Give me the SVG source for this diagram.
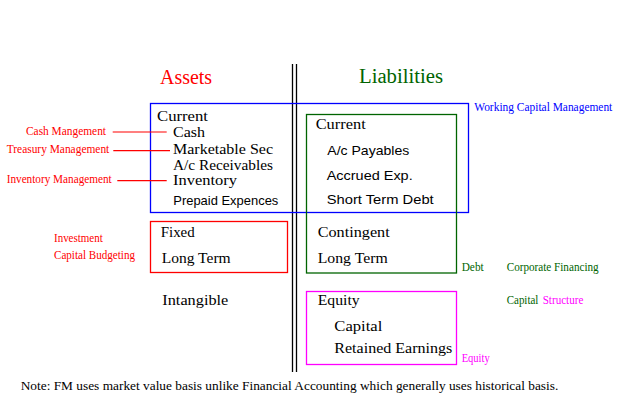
<svg xmlns="http://www.w3.org/2000/svg" width="641" height="410" viewBox="0 0 641 410" font-family="'Liberation Serif', 'DejaVu Serif', serif">
<style>
.it{font-family:'Liberation Serif','DejaVu Serif',serif;font-size:15px;fill:#000;}
.sn{font-family:'Liberation Sans',Arial,sans-serif;font-size:13px;fill:#000;}
.sm{font-family:'Liberation Serif','DejaVu Serif',serif;font-size:11.5px;}
.hd{font-family:'Liberation Serif','DejaVu Serif',serif;font-size:20px;}
.nt{font-family:'Liberation Serif','DejaVu Serif',serif;font-size:12px;fill:#000;}
.r{fill:#ff0000;}
.g{fill:#006400;}
.b{fill:#0000ff;}
.m{fill:#ff00ff;}
.box{fill:none;stroke-width:1.3;}
</style>
<rect width="641" height="410" fill="#ffffff"/>
<g id="divider" stroke="#000" stroke-width="1.3">
<line x1="292.5" y1="64" x2="292.5" y2="372"/>
<line x1="296.5" y1="64" x2="296.5" y2="372"/>
</g>
<g id="headings">
<text class="hd r" x="160" y="84" textLength="52" lengthAdjust="spacingAndGlyphs">Assets</text>
<text class="hd g" x="359" y="83" textLength="84" lengthAdjust="spacingAndGlyphs">Liabilities</text>
</g>
<g id="working-capital">
<rect class="box" x="150.5" y="103.5" width="318" height="109" stroke="#0000ff"/>
<text class="sm b" x="474.3" y="110.7" textLength="138" lengthAdjust="spacingAndGlyphs">Working Capital Management</text>
</g>
<g id="current-assets">
<text class="it" x="157" y="121" textLength="51" lengthAdjust="spacingAndGlyphs">Current</text>
<text class="it" x="173" y="137" textLength="32" lengthAdjust="spacingAndGlyphs">Cash</text>
<text class="it" x="173" y="154" textLength="100" lengthAdjust="spacingAndGlyphs">Marketable Sec</text>
<text class="it" x="173" y="169.5" textLength="100" lengthAdjust="spacingAndGlyphs">A/c Receivables</text>
<text class="it" x="173" y="185" textLength="64" lengthAdjust="spacingAndGlyphs">Inventory</text>
<text class="sn" x="173.3" y="204.7" textLength="105" lengthAdjust="spacingAndGlyphs">Prepaid Expences</text>
</g>
<g id="asset-labels">
<text class="sm r" x="26" y="135.3" textLength="80" lengthAdjust="spacingAndGlyphs">Cash Mangement</text>
<text class="sm r" x="6.7" y="153" textLength="102.6" lengthAdjust="spacingAndGlyphs">Treasury Management</text>
<text class="sm r" x="6.7" y="183.3" textLength="105" lengthAdjust="spacingAndGlyphs">Inventory Management</text>
</g>
<g id="connectors" stroke="#ff0000" stroke-width="1.2">
<line x1="112.7" y1="132" x2="166.7" y2="132"/>
<line x1="113.3" y1="150.7" x2="170" y2="150.7"/>
<line x1="117.3" y1="180.7" x2="166.7" y2="180.7"/>
</g>
<g id="debt">
<rect class="box" x="306.5" y="114.5" width="150" height="158.5" stroke="#006400"/>
<text class="it" x="315.7" y="129" textLength="50" lengthAdjust="spacingAndGlyphs">Current</text>
<text class="sn" x="327.3" y="155" textLength="82" lengthAdjust="spacingAndGlyphs">A/c  Payables</text>
<text class="sn" x="326.7" y="180" textLength="86" lengthAdjust="spacingAndGlyphs">Accrued Exp.</text>
<text class="sn" x="326.7" y="204.3" textLength="107" lengthAdjust="spacingAndGlyphs">Short Term Debt</text>
<text class="it" x="317.7" y="237.3" textLength="72" lengthAdjust="spacingAndGlyphs">Contingent</text>
<text class="it" x="317.7" y="262.7" textLength="70" lengthAdjust="spacingAndGlyphs">Long Term</text>
<text class="sm g" x="461.7" y="270.7" textLength="22" lengthAdjust="spacingAndGlyphs">Debt</text>
</g>
<g id="fixed-assets">
<rect class="box" x="150.5" y="221.5" width="137" height="51" stroke="#ff0000"/>
<text class="it" x="160.7" y="237.3" textLength="34" lengthAdjust="spacingAndGlyphs">Fixed</text>
<text class="it" x="161.7" y="262.7" textLength="69" lengthAdjust="spacingAndGlyphs">Long Term</text>
<text class="sm r" x="54" y="241.7" textLength="48.7" lengthAdjust="spacingAndGlyphs">Investment</text>
<text class="sm r" x="54" y="259" textLength="81" lengthAdjust="spacingAndGlyphs">Capital Budgeting</text>
</g>
<g id="intangible">
<text class="it" x="162.3" y="305.3" textLength="66" lengthAdjust="spacingAndGlyphs">Intangible</text>
</g>
<g id="equity">
<rect class="box" x="306.5" y="291.5" width="150" height="73" stroke="#ff00ff"/>
<text class="it" x="317.7" y="305" textLength="42" lengthAdjust="spacingAndGlyphs">Equity</text>
<text class="it" x="334.3" y="330.7" textLength="48" lengthAdjust="spacingAndGlyphs">Capital</text>
<text class="it" x="334.3" y="352.7" textLength="118" lengthAdjust="spacingAndGlyphs">Retained Earnings</text>
<text class="sm m" x="461.7" y="361.7" textLength="28" lengthAdjust="spacingAndGlyphs">Equity</text>
</g>
<g id="financing">
<text class="sm g" x="506.7" y="270.7" textLength="92" lengthAdjust="spacingAndGlyphs">Corporate Financing</text>
<text class="sm g" x="506.7" y="304.3" textLength="31.7" lengthAdjust="spacingAndGlyphs">Capital</text>
<text class="sm m" x="542.7" y="304.3" textLength="40.7" lengthAdjust="spacingAndGlyphs">Structure</text>
</g>
<g id="note">
<text class="nt" x="20.7" y="390" textLength="537.6" lengthAdjust="spacingAndGlyphs">Note: FM uses market value basis unlike Financial Accounting which generally uses historical basis.</text>
</g>
</svg>
